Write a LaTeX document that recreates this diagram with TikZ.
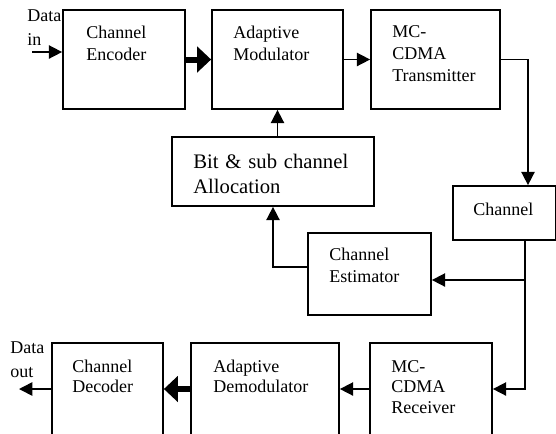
\documentclass[tikz,border=0pt]{standalone}
\usepackage{fontspec}
\setmainfont{Liberation Serif}
\usetikzlibrary{arrows,arrows.meta}

\begin{document}
\begin{tikzpicture}[
x=0.75pt,y=-0.75pt,
blk/.style={draw,line width=1.3pt,inner sep=0pt},
txt/.style={anchor=base west,inner sep=0pt,text width=150pt,align=left,
  font=\fontsize{13.5}{16.5}\selectfont},
arrow/.style={-{Triangle[length=10pt,width=10pt]},line width=1.2pt},
bigarrow/.style={-{Triangle[length=10.5pt,width=19pt]},line width=4.5pt} ]

\useasboundingbox (0,0) rectangle (556,433);
\clip (0,0) rectangle (556,433);

% top row
\node[blk,minimum width=91.5pt,minimum height=74.25pt](enc) at (124,59.5) {};
\node[blk,minimum width=98.25pt,minimum height=74.25pt](mod) at (277.5,59.5) {};
\node[blk,minimum width=96.75pt,minimum height=74.25pt](tx) at (435.5,59.5) {};

% feedback path
\node[blk,minimum width=151.5pt,minimum height=51.75pt](alloc) at (273,171.5) {};
\node[blk,minimum width=77.25pt,minimum height=40.5pt](chan) at (504.5,213) {};
\node[blk,minimum width=92.25pt,minimum height=61.5pt](est) at (369.5,274) {};

% bottom row
\node[blk,minimum width=83.25pt,minimum height=69pt](dec) at (107.5,389) {};
\node[blk,minimum width=111pt,minimum height=69pt](demod) at (265,389) {};
\node[blk,minimum width=91.5pt,minimum height=69pt](rx) at (431,389) {};

% texts
\node[txt](enc-t) at (86,38) {Channel\\Encoder};
\node[txt](mod-t) at (233,38) {Adaptive\\Modulator};
\node[txt](tx-t) at (392,37) {MC-\\CDMA\\Transmitter};
\node[txt,font=\fontsize{15.5}{18.75}\selectfont](alloc-t) at (193,168) {Bit \& sub channel\\Allocation};
\node[txt](chan-t) at (473,215) {Channel};
\node[txt,font=\fontsize{13.5}{17}\selectfont](est-t) at (329,260) {Channel\\Estimator};
\node[txt,font=\fontsize{13.5}{15}\selectfont](dec-t) at (72,372) {Channel\\Decoder};
\node[txt,font=\fontsize{13.5}{15}\selectfont](demod-t) at (213,372) {Adaptive\\Demodulator};
\node[txt,font=\fontsize{13.5}{15.5}\selectfont](rx-t) at (391,372) {MC-\\CDMA\\Receiver};
\node[txt,font=\fontsize{13.5}{18}\selectfont](din-t) at (27,21) {Data\\in};
\node[txt,font=\fontsize{13.5}{18}\selectfont](dout-t) at (10,353) {Data\\out};

% connectors
\coordinate (din) at (32,52);
\coordinate (dout) at (19,389);
\coordinate (split) at (525,280);

\draw[arrow] (din) -- (din -| enc.west);
\draw[bigarrow] (enc) -- (mod);
\draw[arrow] (mod) -- (tx);
\draw[arrow] (tx.east) -| ([shift={(23.5,0)}]chan.north);
\draw[arrow] (alloc.north -| mod.south) -- (mod.south);
\draw[arrow] ([shift={(0,-7)}]est.west) -| (alloc.south);
\draw[line width=1.2pt] (chan.south -| split) -- (split);
\draw[arrow] (split) -- (split -| est.east);
\draw[arrow] (split) |- (rx.east);
\draw[arrow] (rx) -- (demod);
\draw[bigarrow] (demod) -- (dec);
\draw[arrow] (dec) -- (dout);
\end{tikzpicture}
\end{document}
